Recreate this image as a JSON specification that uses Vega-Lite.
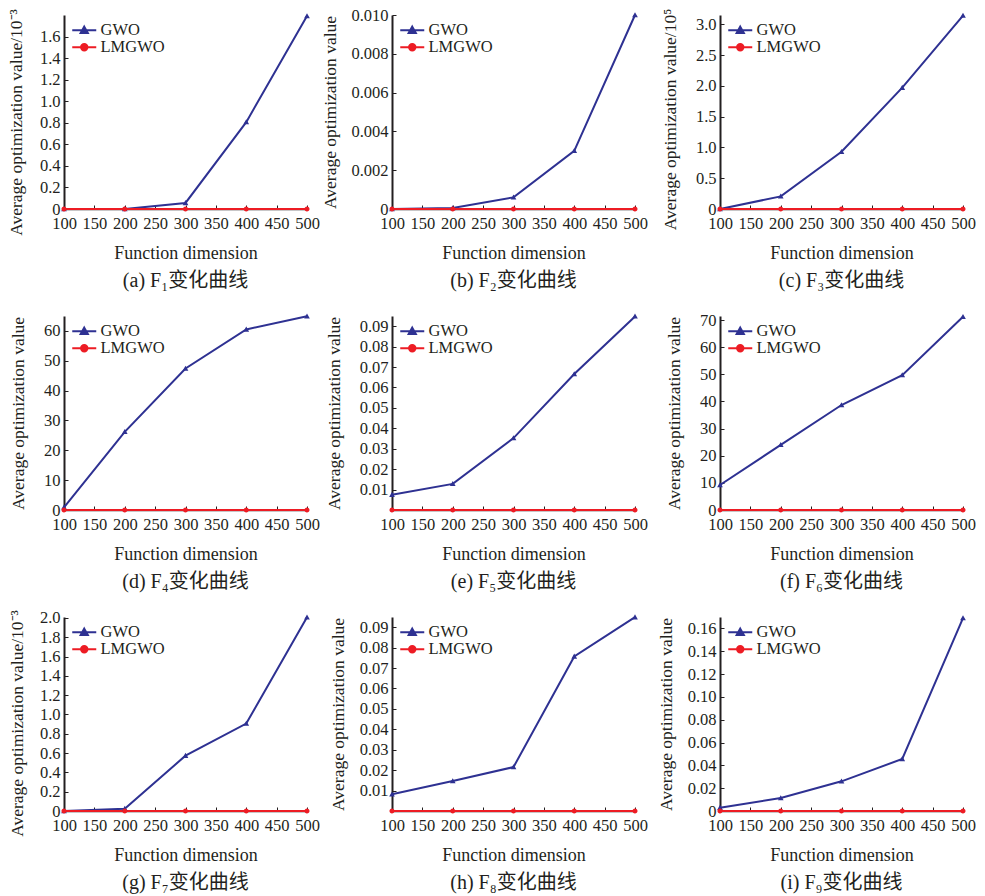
{
  "$schema": "https://vega.github.io/schema/vega-lite/v6.json",
  "background": "white",
  "padding": {"left": 7, "top": 7, "right": 5, "bottom": 2},
  "bounds": "flush",
  "columns": 3,
  "spacing": {"row": 107, "column": 85},
  "resolve": {"scale": {"color": "independent", "shape": "independent"}, "legend": {"color": "independent", "shape": "independent"}},
  "datasets": {
    "d": [
      {"p": "a", "x": 100, "s": "GWO", "v": 0}, {"p": "a", "x": 200, "s": "GWO", "v": 0}, {"p": "a", "x": 300, "s": "GWO", "v": 0.056}, {"p": "a", "x": 400, "s": "GWO", "v": 0.806}, {"p": "a", "x": 500, "s": "GWO", "v": 1.79},
      {"p": "a", "x": 100, "s": "LMGWO", "v": 0}, {"p": "a", "x": 200, "s": "LMGWO", "v": 0}, {"p": "a", "x": 300, "s": "LMGWO", "v": 0}, {"p": "a", "x": 400, "s": "LMGWO", "v": 0}, {"p": "a", "x": 500, "s": "LMGWO", "v": 0},
      {"p": "b", "x": 100, "s": "GWO", "v": 0}, {"p": "b", "x": 200, "s": "GWO", "v": 0.00005}, {"p": "b", "x": 300, "s": "GWO", "v": 0.0006}, {"p": "b", "x": 400, "s": "GWO", "v": 0.003}, {"p": "b", "x": 500, "s": "GWO", "v": 0.01},
      {"p": "b", "x": 100, "s": "LMGWO", "v": 0}, {"p": "b", "x": 200, "s": "LMGWO", "v": 0}, {"p": "b", "x": 300, "s": "LMGWO", "v": 0}, {"p": "b", "x": 400, "s": "LMGWO", "v": 0}, {"p": "b", "x": 500, "s": "LMGWO", "v": 0},
      {"p": "c", "x": 100, "s": "GWO", "v": 0}, {"p": "c", "x": 200, "s": "GWO", "v": 0.205}, {"p": "c", "x": 300, "s": "GWO", "v": 0.93}, {"p": "c", "x": 400, "s": "GWO", "v": 1.97}, {"p": "c", "x": 500, "s": "GWO", "v": 3.14},
      {"p": "c", "x": 100, "s": "LMGWO", "v": 0}, {"p": "c", "x": 200, "s": "LMGWO", "v": 0}, {"p": "c", "x": 300, "s": "LMGWO", "v": 0}, {"p": "c", "x": 400, "s": "LMGWO", "v": 0}, {"p": "c", "x": 500, "s": "LMGWO", "v": 0},
      {"p": "d", "x": 100, "s": "GWO", "v": 0.9}, {"p": "d", "x": 200, "s": "GWO", "v": 26.2}, {"p": "d", "x": 300, "s": "GWO", "v": 47.4}, {"p": "d", "x": 400, "s": "GWO", "v": 60.5}, {"p": "d", "x": 500, "s": "GWO", "v": 64.9},
      {"p": "d", "x": 100, "s": "LMGWO", "v": 0}, {"p": "d", "x": 200, "s": "LMGWO", "v": 0}, {"p": "d", "x": 300, "s": "LMGWO", "v": 0}, {"p": "d", "x": 400, "s": "LMGWO", "v": 0}, {"p": "d", "x": 500, "s": "LMGWO", "v": 0},
      {"p": "e", "x": 100, "s": "GWO", "v": 0.0075}, {"p": "e", "x": 200, "s": "GWO", "v": 0.0128}, {"p": "e", "x": 300, "s": "GWO", "v": 0.0352}, {"p": "e", "x": 400, "s": "GWO", "v": 0.0666}, {"p": "e", "x": 500, "s": "GWO", "v": 0.0948},
      {"p": "e", "x": 100, "s": "LMGWO", "v": 0}, {"p": "e", "x": 200, "s": "LMGWO", "v": 0}, {"p": "e", "x": 300, "s": "LMGWO", "v": 0}, {"p": "e", "x": 400, "s": "LMGWO", "v": 0}, {"p": "e", "x": 500, "s": "LMGWO", "v": 0},
      {"p": "f", "x": 100, "s": "GWO", "v": 9.2}, {"p": "f", "x": 200, "s": "GWO", "v": 24.0}, {"p": "f", "x": 300, "s": "GWO", "v": 38.7}, {"p": "f", "x": 400, "s": "GWO", "v": 49.7}, {"p": "f", "x": 500, "s": "GWO", "v": 71.2},
      {"p": "f", "x": 100, "s": "LMGWO", "v": 0}, {"p": "f", "x": 200, "s": "LMGWO", "v": 0}, {"p": "f", "x": 300, "s": "LMGWO", "v": 0}, {"p": "f", "x": 400, "s": "LMGWO", "v": 0}, {"p": "f", "x": 500, "s": "LMGWO", "v": 0},
      {"p": "g", "x": 100, "s": "GWO", "v": 0}, {"p": "g", "x": 200, "s": "GWO", "v": 0.024}, {"p": "g", "x": 300, "s": "GWO", "v": 0.573}, {"p": "g", "x": 400, "s": "GWO", "v": 0.906}, {"p": "g", "x": 500, "s": "GWO", "v": 2.007},
      {"p": "g", "x": 100, "s": "LMGWO", "v": 0}, {"p": "g", "x": 200, "s": "LMGWO", "v": 0}, {"p": "g", "x": 300, "s": "LMGWO", "v": 0}, {"p": "g", "x": 400, "s": "LMGWO", "v": 0}, {"p": "g", "x": 500, "s": "LMGWO", "v": 0},
      {"p": "h", "x": 100, "s": "GWO", "v": 0.0082}, {"p": "h", "x": 200, "s": "GWO", "v": 0.0147}, {"p": "h", "x": 300, "s": "GWO", "v": 0.0215}, {"p": "h", "x": 400, "s": "GWO", "v": 0.0757}, {"p": "h", "x": 500, "s": "GWO", "v": 0.0949},
      {"p": "h", "x": 100, "s": "LMGWO", "v": 0}, {"p": "h", "x": 200, "s": "LMGWO", "v": 0}, {"p": "h", "x": 300, "s": "LMGWO", "v": 0}, {"p": "h", "x": 400, "s": "LMGWO", "v": 0}, {"p": "h", "x": 500, "s": "LMGWO", "v": 0},
      {"p": "i", "x": 100, "s": "GWO", "v": 0.0029}, {"p": "i", "x": 200, "s": "GWO", "v": 0.0114}, {"p": "i", "x": 300, "s": "GWO", "v": 0.026}, {"p": "i", "x": 400, "s": "GWO", "v": 0.0456}, {"p": "i", "x": 500, "s": "GWO", "v": 0.169},
      {"p": "i", "x": 100, "s": "LMGWO", "v": 0}, {"p": "i", "x": 200, "s": "LMGWO", "v": 0}, {"p": "i", "x": 300, "s": "LMGWO", "v": 0}, {"p": "i", "x": 400, "s": "LMGWO", "v": 0}, {"p": "i", "x": 500, "s": "LMGWO", "v": 0}
    ]
  },
  "concat": [
    {
      "width": 243, "height": 194, "data": {"name": "d"},
      "transform": [{"filter": "datum.p === 'a'"}],
      "title": {"text": "(a) F₁变化曲线"},
      "mark": {"type": "line", "strokeWidth": 2, "point": {"filled": true, "size": 40}},
      "encoding": {
        "x": {"field": "x", "type": "quantitative", "scale": {"domain": [100, 500], "nice": false, "zero": false}, "axis": {"values": [100, 150, 200, 250, 300, 350, 400, 450, 500], "title": "Function dimension"}},
        "y": {"field": "v", "type": "quantitative", "scale": {"domain": [0, 1.8], "nice": false}, "axis": {"values": [0, 0.2, 0.4, 0.6, 0.8, 1.0, 1.2, 1.4, 1.6], "labelExpr": "datum.value === 0 ? '0' : format(datum.value, '.1f')", "title": "Average optimization value/10⁻³", "titlePadding": 13.5, "titleY": 107}},
        "color": {"field": "s", "type": "nominal", "scale": {"domain": ["GWO", "LMGWO"], "range": ["#2e3192", "#ed1c24"]}, "legend": {"orient": "none", "legendX": 12, "legendY": 7, "title": null}},
        "shape": {"field": "s", "type": "nominal", "scale": {"domain": ["GWO", "LMGWO"], "range": ["M-3,0H3M0,-0.9L0.9,0.7L-0.9,0.7Z", "M-3,0H3M0.8,0A0.8,0.8,0,1,1,-0.8,0A0.8,0.8,0,1,1,0.8,0Z"]}, "legend": {"orient": "none", "legendX": 12, "legendY": 7, "title": null}}
      }
    },
    {
      "width": 243, "height": 194, "data": {"name": "d"},
      "transform": [{"filter": "datum.p === 'b'"}],
      "title": {"text": "(b) F₂变化曲线"},
      "mark": {"type": "line", "strokeWidth": 2, "point": {"filled": true, "size": 40}},
      "encoding": {
        "x": {"field": "x", "type": "quantitative", "scale": {"domain": [100, 500], "nice": false, "zero": false}, "axis": {"values": [100, 150, 200, 250, 300, 350, 400, 450, 500], "title": "Function dimension"}},
        "y": {"field": "v", "type": "quantitative", "scale": {"domain": [0, 0.01], "nice": false}, "axis": {"values": [0, 0.002, 0.004, 0.006, 0.008, 0.01], "labelExpr": "datum.value === 0 ? '0' : format(datum.value, '.3f')", "title": "Average optimization value", "titlePadding": 11}},
        "color": {"field": "s", "type": "nominal", "scale": {"domain": ["GWO", "LMGWO"], "range": ["#2e3192", "#ed1c24"]}, "legend": {"orient": "none", "legendX": 12, "legendY": 7, "title": null}},
        "shape": {"field": "s", "type": "nominal", "scale": {"domain": ["GWO", "LMGWO"], "range": ["M-3,0H3M0,-0.9L0.9,0.7L-0.9,0.7Z", "M-3,0H3M0.8,0A0.8,0.8,0,1,1,-0.8,0A0.8,0.8,0,1,1,0.8,0Z"]}, "legend": {"orient": "none", "legendX": 12, "legendY": 7, "title": null}}
      }
    },
    {
      "width": 243, "height": 194, "data": {"name": "d"},
      "transform": [{"filter": "datum.p === 'c'"}],
      "title": {"text": "(c) F₃变化曲线"},
      "mark": {"type": "line", "strokeWidth": 2, "point": {"filled": true, "size": 40}},
      "encoding": {
        "x": {"field": "x", "type": "quantitative", "scale": {"domain": [100, 500], "nice": false, "zero": false}, "axis": {"values": [100, 150, 200, 250, 300, 350, 400, 450, 500], "title": "Function dimension"}},
        "y": {"field": "v", "type": "quantitative", "scale": {"domain": [0, 3.15], "nice": false}, "axis": {"values": [0, 0.5, 1.0, 1.5, 2.0, 2.5, 3.0], "labelExpr": "datum.value === 0 ? '0' : format(datum.value, '.1f')", "title": "Average optimization value/10⁵", "titlePadding": 16, "titleY": 104}},
        "color": {"field": "s", "type": "nominal", "scale": {"domain": ["GWO", "LMGWO"], "range": ["#2e3192", "#ed1c24"]}, "legend": {"orient": "none", "legendX": 12, "legendY": 7, "title": null}},
        "shape": {"field": "s", "type": "nominal", "scale": {"domain": ["GWO", "LMGWO"], "range": ["M-3,0H3M0,-0.9L0.9,0.7L-0.9,0.7Z", "M-3,0H3M0.8,0A0.8,0.8,0,1,1,-0.8,0A0.8,0.8,0,1,1,0.8,0Z"]}, "legend": {"orient": "none", "legendX": 12, "legendY": 7, "title": null}}
      }
    },
    {
      "width": 243, "height": 194, "data": {"name": "d"},
      "transform": [{"filter": "datum.p === 'd'"}],
      "title": {"text": "(d) F₄变化曲线"},
      "mark": {"type": "line", "strokeWidth": 2, "point": {"filled": true, "size": 40}},
      "encoding": {
        "x": {"field": "x", "type": "quantitative", "scale": {"domain": [100, 500], "nice": false, "zero": false}, "axis": {"values": [100, 150, 200, 250, 300, 350, 400, 450, 500], "title": "Function dimension"}},
        "y": {"field": "v", "type": "quantitative", "scale": {"domain": [0, 65], "nice": false}, "axis": {"values": [0, 10, 20, 30, 40, 50, 60], "format": "d", "title": "Average optimization value", "titlePadding": 16}},
        "color": {"field": "s", "type": "nominal", "scale": {"domain": ["GWO", "LMGWO"], "range": ["#2e3192", "#ed1c24"]}, "legend": {"orient": "none", "legendX": 12, "legendY": 7, "title": null}},
        "shape": {"field": "s", "type": "nominal", "scale": {"domain": ["GWO", "LMGWO"], "range": ["M-3,0H3M0,-0.9L0.9,0.7L-0.9,0.7Z", "M-3,0H3M0.8,0A0.8,0.8,0,1,1,-0.8,0A0.8,0.8,0,1,1,0.8,0Z"]}, "legend": {"orient": "none", "legendX": 12, "legendY": 7, "title": null}}
      }
    },
    {
      "width": 243, "height": 194, "data": {"name": "d"},
      "transform": [{"filter": "datum.p === 'e'"}],
      "title": {"text": "(e) F₅变化曲线"},
      "mark": {"type": "line", "strokeWidth": 2, "point": {"filled": true, "size": 40}},
      "encoding": {
        "x": {"field": "x", "type": "quantitative", "scale": {"domain": [100, 500], "nice": false, "zero": false}, "axis": {"values": [100, 150, 200, 250, 300, 350, 400, 450, 500], "title": "Function dimension"}},
        "y": {"field": "v", "type": "quantitative", "scale": {"domain": [0, 0.095], "nice": false}, "axis": {"values": [0.01, 0.02, 0.03, 0.04, 0.05, 0.06, 0.07, 0.08, 0.09], "format": ".2f", "title": "Average optimization value", "titlePadding": 16}},
        "color": {"field": "s", "type": "nominal", "scale": {"domain": ["GWO", "LMGWO"], "range": ["#2e3192", "#ed1c24"]}, "legend": {"orient": "none", "legendX": 12, "legendY": 7, "title": null}},
        "shape": {"field": "s", "type": "nominal", "scale": {"domain": ["GWO", "LMGWO"], "range": ["M-3,0H3M0,-0.9L0.9,0.7L-0.9,0.7Z", "M-3,0H3M0.8,0A0.8,0.8,0,1,1,-0.8,0A0.8,0.8,0,1,1,0.8,0Z"]}, "legend": {"orient": "none", "legendX": 12, "legendY": 7, "title": null}}
      }
    },
    {
      "width": 243, "height": 194, "data": {"name": "d"},
      "transform": [{"filter": "datum.p === 'f'"}],
      "title": {"text": "(f) F₆变化曲线"},
      "mark": {"type": "line", "strokeWidth": 2, "point": {"filled": true, "size": 40}},
      "encoding": {
        "x": {"field": "x", "type": "quantitative", "scale": {"domain": [100, 500], "nice": false, "zero": false}, "axis": {"values": [100, 150, 200, 250, 300, 350, 400, 450, 500], "title": "Function dimension"}},
        "y": {"field": "v", "type": "quantitative", "scale": {"domain": [0, 71.5], "nice": false}, "axis": {"values": [0, 10, 20, 30, 40, 50, 60, 70], "format": "d", "title": "Average optimization value", "titlePadding": 16}},
        "color": {"field": "s", "type": "nominal", "scale": {"domain": ["GWO", "LMGWO"], "range": ["#2e3192", "#ed1c24"]}, "legend": {"orient": "none", "legendX": 12, "legendY": 7, "title": null}},
        "shape": {"field": "s", "type": "nominal", "scale": {"domain": ["GWO", "LMGWO"], "range": ["M-3,0H3M0,-0.9L0.9,0.7L-0.9,0.7Z", "M-3,0H3M0.8,0A0.8,0.8,0,1,1,-0.8,0A0.8,0.8,0,1,1,0.8,0Z"]}, "legend": {"orient": "none", "legendX": 12, "legendY": 7, "title": null}}
      }
    },
    {
      "width": 243, "height": 194, "data": {"name": "d"},
      "transform": [{"filter": "datum.p === 'g'"}],
      "title": {"text": "(g) F₇变化曲线"},
      "mark": {"type": "line", "strokeWidth": 2, "point": {"filled": true, "size": 40}},
      "encoding": {
        "x": {"field": "x", "type": "quantitative", "scale": {"domain": [100, 500], "nice": false, "zero": false}, "axis": {"values": [100, 150, 200, 250, 300, 350, 400, 450, 500], "title": "Function dimension"}},
        "y": {"field": "v", "type": "quantitative", "scale": {"domain": [0, 2.01], "nice": false}, "axis": {"values": [0, 0.2, 0.4, 0.6, 0.8, 1.0, 1.2, 1.4, 1.6, 1.8, 2.0], "labelExpr": "datum.value === 0 ? '0' : format(datum.value, '.1f')", "title": "Average optimization value/10⁻³", "titlePadding": 13, "titleY": 106}},
        "color": {"field": "s", "type": "nominal", "scale": {"domain": ["GWO", "LMGWO"], "range": ["#2e3192", "#ed1c24"]}, "legend": {"orient": "none", "legendX": 12, "legendY": 7, "title": null}},
        "shape": {"field": "s", "type": "nominal", "scale": {"domain": ["GWO", "LMGWO"], "range": ["M-3,0H3M0,-0.9L0.9,0.7L-0.9,0.7Z", "M-3,0H3M0.8,0A0.8,0.8,0,1,1,-0.8,0A0.8,0.8,0,1,1,0.8,0Z"]}, "legend": {"orient": "none", "legendX": 12, "legendY": 7, "title": null}}
      }
    },
    {
      "width": 243, "height": 194, "data": {"name": "d"},
      "transform": [{"filter": "datum.p === 'h'"}],
      "title": {"text": "(h) F₈变化曲线"},
      "mark": {"type": "line", "strokeWidth": 2, "point": {"filled": true, "size": 40}},
      "encoding": {
        "x": {"field": "x", "type": "quantitative", "scale": {"domain": [100, 500], "nice": false, "zero": false}, "axis": {"values": [100, 150, 200, 250, 300, 350, 400, 450, 500], "title": "Function dimension"}},
        "y": {"field": "v", "type": "quantitative", "scale": {"domain": [0, 0.095], "nice": false}, "axis": {"values": [0.01, 0.02, 0.03, 0.04, 0.05, 0.06, 0.07, 0.08, 0.09], "format": ".2f", "title": "Average optimization value", "titlePadding": 12}},
        "color": {"field": "s", "type": "nominal", "scale": {"domain": ["GWO", "LMGWO"], "range": ["#2e3192", "#ed1c24"]}, "legend": {"orient": "none", "legendX": 12, "legendY": 7, "title": null}},
        "shape": {"field": "s", "type": "nominal", "scale": {"domain": ["GWO", "LMGWO"], "range": ["M-3,0H3M0,-0.9L0.9,0.7L-0.9,0.7Z", "M-3,0H3M0.8,0A0.8,0.8,0,1,1,-0.8,0A0.8,0.8,0,1,1,0.8,0Z"]}, "legend": {"orient": "none", "legendX": 12, "legendY": 7, "title": null}}
      }
    },
    {
      "width": 243, "height": 194, "data": {"name": "d"},
      "transform": [{"filter": "datum.p === 'i'"}],
      "title": {"text": "(i) F₉变化曲线"},
      "mark": {"type": "line", "strokeWidth": 2, "point": {"filled": true, "size": 40}},
      "encoding": {
        "x": {"field": "x", "type": "quantitative", "scale": {"domain": [100, 500], "nice": false, "zero": false}, "axis": {"values": [100, 150, 200, 250, 300, 350, 400, 450, 500], "title": "Function dimension"}},
        "y": {"field": "v", "type": "quantitative", "scale": {"domain": [0, 0.17], "nice": false}, "axis": {"values": [0, 0.02, 0.04, 0.06, 0.08, 0.1, 0.12, 0.14, 0.16], "labelExpr": "datum.value === 0 ? '0' : format(datum.value, '.2f')", "title": "Average optimization value", "titlePadding": 12}},
        "color": {"field": "s", "type": "nominal", "scale": {"domain": ["GWO", "LMGWO"], "range": ["#2e3192", "#ed1c24"]}, "legend": {"orient": "none", "legendX": 12, "legendY": 7, "title": null}},
        "shape": {"field": "s", "type": "nominal", "scale": {"domain": ["GWO", "LMGWO"], "range": ["M-3,0H3M0,-0.9L0.9,0.7L-0.9,0.7Z", "M-3,0H3M0.8,0A0.8,0.8,0,1,1,-0.8,0A0.8,0.8,0,1,1,0.8,0Z"]}, "legend": {"orient": "none", "legendX": 12, "legendY": 7, "title": null}}
      }
    }
  ],
  "config": {
    "font": "Liberation Serif, Noto Sans CJK SC",
    "view": {"stroke": null},
    "axis": {
      "grid": false,
      "labelFont": "Liberation Serif",
      "labelFontSize": 16.5,
      "labelColor": "#231f20",
      "labelOverlap": false,
      "labelFlush": false,
      "titleFont": "Liberation Serif",
      "titleFontSize": 17.5,
      "titleFontWeight": "normal",
      "titleColor": "#231f20",
      "domainColor": "#231f20",
      "tickColor": "#231f20",
      "tickSize": -4,
      "labelPadding": 8
    },
    "axisY": {"domainWidth": 2},
    "axisX": {"domainWidth": 1.5, "titlePadding": 13, "titleFontSize": 18, "labelPadding": 10},
    "legend": {
      "labelFont": "Liberation Serif",
      "labelFontSize": 16.5,
      "labelColor": "#231f20",
      "symbolSize": 64,
      "symbolStrokeWidth": 2,
      "labelOffset": 8,
      "rowPadding": 0,
      "padding": 0
    },
    "title": {
      "font": "Liberation Serif, Noto Sans CJK SC",
      "fontSize": 20,
      "fontWeight": "normal",
      "color": "#231f20",
      "orient": "bottom",
      "offset": 8
    }
  }
}
